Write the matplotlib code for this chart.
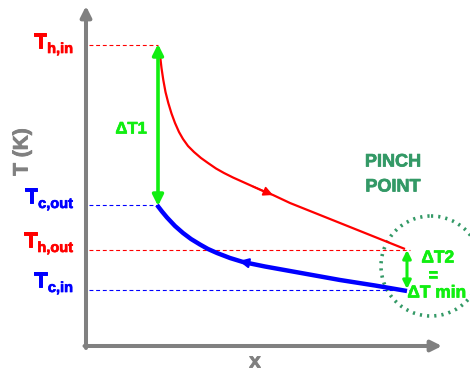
import matplotlib
matplotlib.use("Agg")
import matplotlib.pyplot as plt
import matplotlib.patheffects as pe
from matplotlib.patches import Circle

plt.rcParams['font.family'] = ['Liberation Sans', 'DejaVu Sans']

# --- data (schematic coordinates: x position, T level; drawn in image-like units, T up) ---
hot_x = [160, 161.5, 163.3, 165.5, 168.3, 171.5, 175, 179, 183, 188, 194, 201, 208, 216, 224, 233, 243, 253, 263, 273, 290, 310, 340, 375, 405]
hot_T = [55, 68, 80, 92, 103, 113.5, 123, 132, 139, 146, 152, 158, 163, 168.5, 173, 177.5, 182, 186.5, 191, 195, 203, 211, 223, 237, 249]
cold_x = [157, 162, 167, 175, 183, 191, 200, 208, 217, 230, 243, 265, 290, 315, 340, 375, 407]
cold_T = [205, 211.5, 217.5, 226, 233, 239, 244.5, 249, 253, 258, 262, 266.5, 271, 275.5, 280, 285.5, 291]

level_main = ['T', 'T', 'T', 'T']
level_sub = ['h,in', 'c,out', 'h,out', 'c,in']
level_T = [45, 205, 250, 290]
level_baseline = [48, 203, 247, 287]
level_end = [158, 158, 410, 410]
level_colors = ['#ff0000', '#0000ff', '#ff0000', '#0000ff']

RED = '#ff0000'
BLUE = '#0000ff'
GREEN = '#11ee11'
GREY = '#808080'
PINCH = '#339966'


def heavy(c, w=0.6):
    return [pe.withStroke(linewidth=w, foreground=c)]


fig = plt.figure(figsize=(4.7, 3.74), dpi=100)
ax = fig.add_axes([0, 0, 1, 1])
ax.set_xlim(0, 470)
ax.set_ylim(374, 0)
ax.axis('off')

# axes arrows
ax.annotate('', xy=(86, 6), xytext=(86, 348),
            arrowprops=dict(arrowstyle='-|>', color=GREY, lw=2.9, mutation_scale=16, shrinkA=0, shrinkB=0))
ax.annotate('', xy=(442, 346), xytext=(84.5, 346),
            arrowprops=dict(arrowstyle='-|>', color=GREY, lw=2.9, mutation_scale=16, shrinkA=0, shrinkB=0))
ax.text(22, 152, 'T (K)', rotation=90, color=GREY, fontsize=15, fontweight='bold', ha='center', va='center',
        path_effects=heavy(GREY))
ax.text(255, 362, 'x', color=GREY, fontsize=15, fontweight='bold', ha='center', va='center',
        path_effects=heavy(GREY))

# level dashed lines and labels
fig.canvas.draw()
renderer = fig.canvas.get_renderer()
for main, sub, T, bl, xe, c in zip(level_main, level_sub, level_T, level_baseline, level_end, level_colors):
    ax.plot([89, xe], [T, T], color=c, lw=0.8, dashes=(3.5, 2.5))
    s = ax.text(73, bl + 5, sub, color=c, fontsize=10.5, fontweight='bold', ha='right', va='baseline',
                path_effects=heavy(c, 0.5))
    w = s.get_window_extent(renderer).width
    ax.text(73 - w - 0.5, bl, main, color=c, fontsize=15.5, fontweight='bold', ha='right', va='baseline',
            path_effects=heavy(c, 0.7))

# curves
ax.plot(hot_x, hot_T, color=RED, lw=1.6, solid_capstyle='butt', solid_joinstyle='round')
ax.plot(cold_x, cold_T, color=BLUE, lw=3.2, solid_capstyle='butt', solid_joinstyle='round')

# direction arrows on curves (placed on curve points)
ax.annotate('', xy=(hot_x[19], hot_T[19]), xytext=(hot_x[17], hot_T[17]),
            arrowprops=dict(arrowstyle='-|>', color=RED, lw=1.2, mutation_scale=14, shrinkA=0, shrinkB=0))
ax.annotate('', xy=(cold_x[10] - 4, cold_T[10] - 1), xytext=(cold_x[11], cold_T[11]),
            arrowprops=dict(arrowstyle='-|>', color=BLUE, lw=1.6, mutation_scale=14, shrinkA=0, shrinkB=0))

# delta T1 arrow
ax.annotate('', xy=(158, 44), xytext=(158, 206),
            arrowprops=dict(arrowstyle='<|-|>', color=GREEN, lw=2.6, mutation_scale=16, shrinkA=0, shrinkB=0))
ax.text(131, 129, 'ΔT1', color=GREEN, fontsize=12, fontweight='bold', ha='center', va='center',
        path_effects=heavy(GREEN, 0.5))

# delta T2 arrow
ax.annotate('', xy=(407, 250), xytext=(407, 289),
            arrowprops=dict(arrowstyle='<|-|>', color=GREEN, lw=2.2, mutation_scale=12, shrinkA=0, shrinkB=0))
for txt, xx, yy in [('ΔT2', 438, 258), ('=', 433, 276), ('ΔT min', 437, 293)]:
    ax.text(xx, yy, txt, color=GREEN, fontsize=12.5, fontweight='bold', ha='center', va='center',
            path_effects=heavy(GREEN, 0.5))

# pinch point
circ = Circle((431, 266), 50, fill=False, edgecolor=PINCH, lw=2.6, linestyle=(0, (0.6, 1.4)), clip_on=True)
ax.add_patch(circ)
ax.text(393, 162, 'PINCH', color=PINCH, fontsize=13, fontweight='bold', ha='center', va='center',
        path_effects=heavy(PINCH, 0.5))
ax.text(393, 187, 'POINT', color=PINCH, fontsize=13, fontweight='bold', ha='center', va='center',
        path_effects=heavy(PINCH, 0.5))

fig.savefig('out.png', dpi=100)
